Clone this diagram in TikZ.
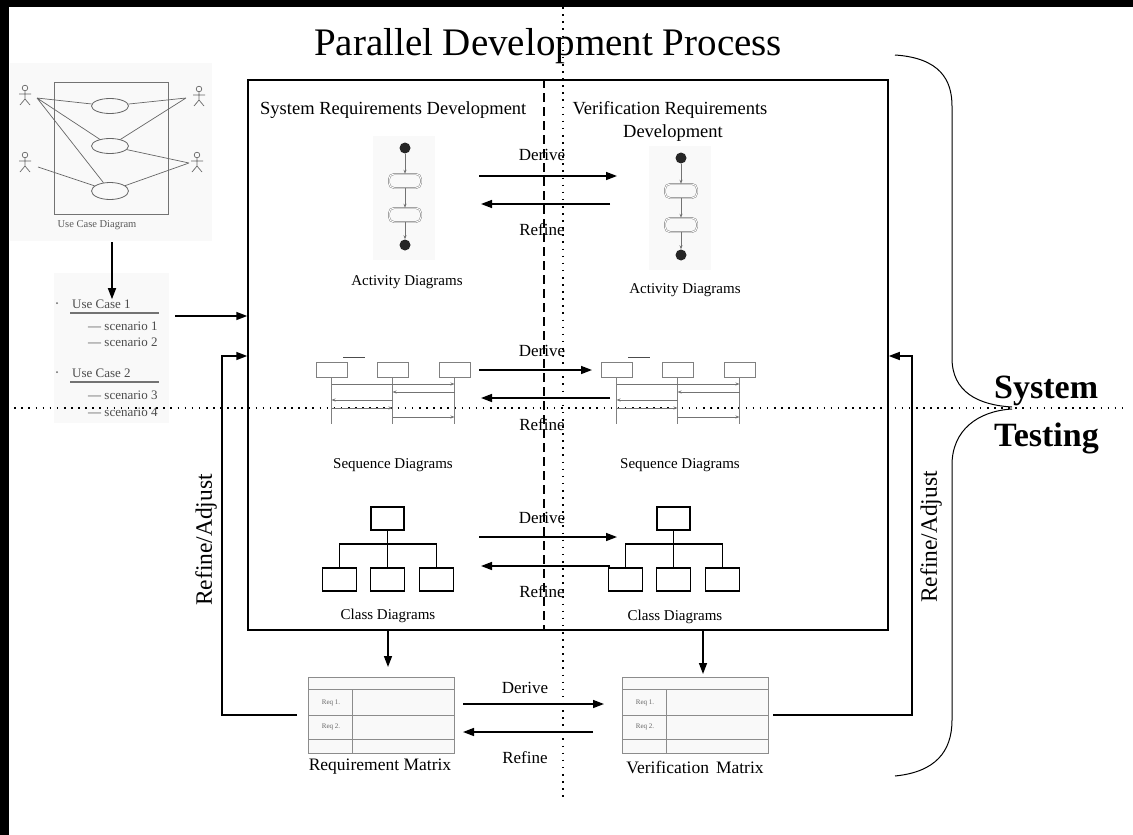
\documentclass[tikz,border=0pt]{standalone}
\usepackage{fontspec}
\setmainfont{Liberation Serif}
\usetikzlibrary{arrows.meta,positioning,shapes.geometric}

\newcommand\fsz[1]{\fontsize{#1}{#1}\selectfont}

\tikzset{
  flow/.style={line width=1.5pt,-{Triangle[length=11pt,width=8pt]}},
  thin flow/.style={black!55,line width=0.7pt,-{Stealth[length=4pt,width=3pt]}},
  grey box/.style={draw=black!50,line width=0.8pt,fill=white,minimum width=31pt,minimum height=15pt,inner sep=0pt},
  class box/.style={draw,line width=1.3pt,minimum width=34pt,minimum height=23pt,inner sep=0pt},
  act box/.style={draw=black!55,double=white,double distance=1pt,rounded corners=5pt,minimum width=32pt,minimum height=14pt,inner sep=0pt},
  act dot/.style={circle,fill=black!85,minimum size=11pt,inner sep=0pt},
  lbl/.style={inner sep=0pt,font=\fsz{17}},
  caption/.style={inner sep=0pt,font=\fsz{15}},
  pale/.style={fill=black!2.5,draw=none,inner sep=0pt},
  % stick figure of a use case actor
  stick/.pic={
    \draw[black!60,line width=0.7pt] (0,-7) circle[radius=2.8pt] (0,-4.2) -- (0,4)
      (-6,-1) -- (6,-1) (-5,10) -- (0,4) -- (5,10);
  },
  % activity diagram thumbnail
  activity/.pic={
    \fill[black!2.5] (-32,-12) rectangle (30,112);
    \node[act dot] (-s) at (0,0) {};
    \node[act box] (-a) at (0,33) {};
    \node[act box] (-b) at (0,67) {};
    \node[act dot] (-e) at (0,97) {};
    \draw[thin flow] (-s) -- (-a);
    \draw[thin flow] (-a) -- (-b);
    \draw[thin flow] (-b) -- (-e);
  },
  % sequence diagram thumbnail
  seqdia/.pic={
    \node[grey box] (-p) at (0,0) {};
    \node[grey box] (-q) at (61,0) {};
    \node[grey box] (-r) at (123,0) {};
    \draw[black!50,line width=0.8pt] (-p.south) -- (0,54.5) (-q.south) -- (61,54.5) (-r.south) -- (123,54.5);
    \draw[thin flow] (0,14.5) -- (123,14.5);
    \draw[thin flow] (123,22.5) -- (61,22.5);
    \draw[thin flow] (61,30.5) -- (0,30.5);
    \draw[thin flow] (0,38.5) -- (61,38.5);
    \draw[thin flow] (61,47.5) -- (123,47.5);
    \draw[black!70,line width=0.8pt] (11.5,-12.5) -- (33.5,-12.5);
  },
  % class diagram thumbnail
  classdia/.pic={
    \node[class box,minimum width=33pt] (-t) at (0,0) {};
    \node[class box] (-l) at (-48,61) {};
    \node[class box] (-m) at (0,61) {};
    \node[class box] (-r) at (49,61) {};
    \draw[line width=1.3pt] (-t) -- (-m);
    \draw[line width=1.3pt] (-l.north) |- (0,25.5) -| (-r.north);
  },
  % requirement table
  reqtable/.pic={
    \node[pale,minimum width=146pt,minimum height=76pt] (-box) at (0,0) {};
    \draw[black!45,line width=0.9pt] (-73,-38) rectangle (73,38)
      (-73,-26) -- (73,-26) (-73,0) -- (73,0) (-73,24) -- (73,24) (-29,-26) -- (-29,38);
    \node[font=\fsz{7},text=black!60,inner sep=0pt] (-r1) at (-50,-12) {Req 1.};
    \node[font=\fsz{7},text=black!60,inner sep=0pt] (-r2) at (-50,12) {Req 2.};
  }
}

\begin{document}
\begin{tikzpicture}[x=1pt,y=-1pt]
  \useasboundingbox (0,0) rectangle (1133,835);
  \fill (0,0) rectangle (9,835);
  \fill (0,0) rectangle (1133,7);

  \node[font=\fsz{39},inner sep=0pt,anchor=base] (title) at (548,55) {Parallel Development Process};

  % use case diagram
  \node[pale,minimum width=202pt,minimum height=178pt] (ucpanel) at (111,152) {};
  \draw[black!55,line width=0.8pt] (54,82) rectangle (168,214);
  \node[draw=black!60,line width=0.8pt,ellipse,minimum width=37pt,minimum height=15pt,inner sep=0pt] (uc1) at (110,106) {};
  \node[draw=black!60,line width=0.8pt,ellipse,minimum width=37pt,minimum height=15pt,inner sep=0pt] (uc2) at (110,146) {};
  \node[draw=black!60,line width=0.8pt,ellipse,minimum width=37pt,minimum height=17pt,inner sep=0pt] (uc3) at (110,191) {};
  \pic at (25,95) {stick};
  \pic at (25,162) {stick};
  \pic at (199,96) {stick};
  \pic at (197,162) {stick};
  \coordinate (a1) at (37,98);
  \coordinate (a2) at (38,167);
  \coordinate (a3) at (186,98);
  \coordinate (a4) at (189,163);
  \draw[black!60,line width=0.7pt] (a1) -- (uc1) (a1) -- (uc2) (a1) -- (uc3) (a2) -- (uc3)
    (a3) -- (uc1) (a3) -- (uc2) (a4) -- (uc2) (a4) -- (uc3);
  \node[font=\fsz{10.5},text=black!65,inner sep=0pt] (uclabel) at (97,225) {Use Case Diagram};

  % use case list
  \node[pale,minimum width=115pt,minimum height=150pt] (ucpanel2) at (111,348) {};
  \fill[black!60] (57,303) circle[radius=1pt];
  \node[anchor=base west,inner sep=0pt,font=\fsz{13},text=black!70] (ucase1) at (72,308) {Use Case 1};
  \draw[black!55,line width=1.6pt] (70,313) -- (159,313);
  \node[anchor=base west,inner sep=0pt,font=\fsz{13},text=black!70] (scen1) at (88,330) {--- scenario 1};
  \node[anchor=base west,inner sep=0pt,font=\fsz{13},text=black!70] (scen2) at (88,346) {--- scenario 2};
  \fill[black!60] (57,372) circle[radius=1pt];
  \node[anchor=base west,inner sep=0pt,font=\fsz{13},text=black!70] (ucase2) at (72,377) {Use Case 2};
  \draw[black!55,line width=1.6pt] (70,382) -- (159,382);
  \node[anchor=base west,inner sep=0pt,font=\fsz{13},text=black!70] (scen3) at (88,399) {--- scenario 3};
  \node[anchor=base west,inner sep=0pt,font=\fsz{13},text=black!70] (scen4) at (88,416) {--- scenario 4};

  \coordinate (ucout) at (112,242);
  \draw[flow] (ucout) -- (ucout |- ucase1.north);

  % main frame
  \node[draw,line width=1.5pt,minimum width=640pt,minimum height=550pt,inner sep=0pt] (frame) at (568,355) {};
  \coordinate (split) at (544,0);
  \draw[line width=1.2pt,dash pattern=on 9pt off 5pt] (split |- frame.north) -- (split |- frame.south);
  \draw[line width=1.6pt,dash pattern=on 1.6pt off 5.5pt] (563,0) -- (563,800);
  \draw[line width=1.6pt,dash pattern=on 1.6pt off 5.5pt] (0,408) -- (1125,408);

  \coordinate (listout) at (175,316);
  \draw[flow] (listout) -- (listout -| frame.west);

  \node[font=\fsz{18.5},anchor=base west,inner sep=0pt] (syshead) at (260,114) {System Requirements Development};
  \node[font=\fsz{18.5},anchor=base,inner sep=0pt] (verhead) at (670,114) {Verification Requirements};
  \node[font=\fsz{18.5},anchor=base,inner sep=0pt] (verhead2) at (673,137) {Development};

  % thumbnails
  \pic (actL) at (405,148) {activity};
  \pic (actR) at (681,158) {activity};
  \node[caption] (actLlbl) at (407,282) {Activity Diagrams};
  \node[caption] (actRlbl) at (685,290) {Activity Diagrams};

  \pic (seqL) at (331.5,369.5) {seqdia};
  \pic (seqR) at (616.5,369.5) {seqdia};
  \node[caption] (seqLlbl) at (393,465) {Sequence Diagrams};
  \node[caption] (seqRlbl) at (680,465) {Sequence Diagrams};

  \pic (clsL) at (387.5,518.5) {classdia};
  \pic (clsR) at (673.5,518.5) {classdia};
  \node[caption] (clsLlbl) at (388,616) {Class Diagrams};
  \node[caption] (clsRlbl) at (675,617) {Class Diagrams};

  % derive / refine
  \node[lbl] (der1) at (542,155) {Derive};
  \node[lbl] (ref1) at (542,230) {Refine};
  \coordinate (d1a) at (479,176); \coordinate (d1b) at (617,176);
  \coordinate (r1a) at (610,204); \coordinate (r1b) at (481,204);
  \draw[flow] (d1a) -- (d1b);
  \draw[flow] (r1a) -- (r1b);

  \node[lbl] (der2) at (542,351) {Derive};
  \node[lbl] (ref2) at (542,425) {Refine};
  \coordinate (d2a) at (479,370); \coordinate (d2b) at (592,370);
  \coordinate (r2a) at (610,398); \coordinate (r2b) at (481,398);
  \draw[flow] (d2a) -- (d2b);
  \draw[flow] (r2a) -- (r2b);

  \node[lbl] (der3) at (542,518) {Derive};
  \node[lbl] (ref3) at (542,592) {Refine};
  \coordinate (d3a) at (479,537); \coordinate (d3b) at (617,537);
  \coordinate (r3a) at (610,566); \coordinate (r3b) at (481,566);
  \draw[flow] (d3a) -- (d3b);
  \draw[flow] (r3a) -- (r3b);

  % matrices
  \pic (reqM) at (381,715) {reqtable};
  \pic (verM) at (695,715) {reqtable};
  \node[font=\fsz{17.5},inner sep=0pt] (reqlbl) at (380,767) {Requirement Matrix};
  \node[font=\fsz{17.5},inner sep=0pt] (verlbl) at (695,767) {Verification\hspace{7pt}Matrix};
  \coordinate (reqin) at (388,667);
  \coordinate (verin) at (703,674);
  \draw[flow] (reqin |- frame.south) -- (reqin);
  \draw[flow] (verin |- frame.south) -- (verin);

  \node[lbl] (der4) at (525,688) {Derive};
  \node[lbl] (ref4) at (525,758) {Refine};
  \coordinate (d4a) at (463,704); \coordinate (d4b) at (604,704);
  \coordinate (r4a) at (593,732); \coordinate (r4b) at (463,732);
  \draw[flow] (d4a) -- (d4b);
  \draw[flow] (r4a) -- (r4b);

  % refine / adjust loops
  \coordinate (reqout) at (297,715);
  \coordinate (loopL) at (222,356);
  \draw[flow] (reqout) -| (loopL) -- (loopL -| frame.west);
  \node[rotate=90,font=\fsz{23.5},inner sep=0pt] (adjL) at (206,540) {Refine/Adjust};
  \coordinate (verout) at (773,715);
  \coordinate (loopR) at (912,356);
  \draw[flow] (verout) -| (loopR) -- (loopR -| frame.east);
  \node[rotate=90,font=\fsz{23.5},inner sep=0pt] (adjR) at (931,537) {Refine/Adjust};

  % system testing brace
  \draw[line width=1pt] (895,55) .. controls (940,58) and (952,80) .. (952,106) -- (952,358)
    .. controls (952,392) and (978,405) .. (1012,407);
  \draw[line width=1pt] (1012,409) .. controls (978,411) and (952,430) .. (952,465) -- (952,720)
    .. controls (952,752) and (935,772) .. (895,776);
  \node[font=\fsz{34}\bfseries,anchor=base west,inner sep=0pt] (systxt) at (994,398) {System};
  \node[font=\fsz{34}\bfseries,anchor=base west,inner sep=0pt] (testtxt) at (994,446) {Testing};
\end{tikzpicture}
\end{document}
